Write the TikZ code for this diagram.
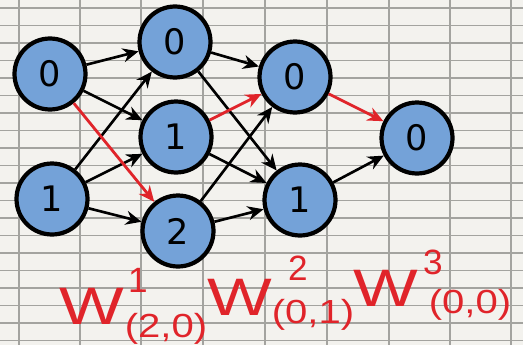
\documentclass[tikz,border=0pt]{standalone}
\usepackage{fontspec}
\setsansfont{DejaVu Sans}
\newfontfamily\handfont{Liberation Sans}
\usetikzlibrary{arrows.meta}
\definecolor{paper}{HTML}{F3F2EE}
\definecolor{gridc}{HTML}{A3A39F}
\definecolor{nodeblue}{HTML}{74A2D8}
\definecolor{penred}{HTML}{E0242A}
\begin{document}
\begin{tikzpicture}[x=0.02cm,y=-0.02cm,
  neuron/.style={circle,draw=black,line width=2.4pt,fill=nodeblue,minimum size=1.42cm,inner sep=0pt,font=\sffamily\fontsize{20}{20}\selectfont},
  edge/.style={-{Stealth[length=9pt,width=8pt]},line width=1.5pt,black},
  redge/.style={-{Stealth[length=9pt,width=8pt]},line width=1.6pt,penred},
  wbig/.style={text=penred,font=\handfont\fontsize{30}{30}\selectfont,inner sep=0pt,xscale=1.3},
  wsup/.style={text=penred,font=\handfont\fontsize{20}{20}\selectfont,inner sep=0pt},
  wsub/.style={text=penred,font=\handfont\fontsize{19}{19}\selectfont,inner sep=0pt,xscale=1.2}]
\fill[paper] (0,0) rectangle (523,345);
\useasboundingbox (0,0) rectangle (523,345);
\foreach \yy in {8,25.5,...,345} \draw[gridc,line width=0.6pt] (0,\yy) -- (523,\yy);
\foreach \xx in {19,80,141,203,265,327,389,450,511} \draw[gridc,line width=0.8pt] (\xx,0) -- (\xx,345);
% nodes
\node[neuron] (i0) at (50,74) {0};
\node[neuron] (i1) at (52,199) {1};
\node[neuron] (h0) at (175,42) {0};
\node[neuron] (h1) at (176,137) {1};
\node[neuron] (h2) at (178,231) {2};
\node[neuron] (g0) at (295,77) {0};
\node[neuron] (g1) at (300,200) {1};
\node[neuron] (o0) at (417,138) {0};
% edges layer 1
\draw[edge] (i0) -- (h0);
\draw[edge] (i0) -- (h1);
\draw[edge] (i1) -- (h0);
\draw[edge] (i1) -- (h1);
\draw[edge] (i1) -- (h2);
\draw[redge] (i0) -- (h2);
% edges layer 2
\draw[edge] (h0) -- (g0);
\draw[edge] (h0) -- (g1);
\draw[edge] (h1) -- (g1);
\draw[edge] (h2) -- (g0);
\draw[edge] (h2) -- (g1);
\draw[redge] (h1) -- (g0);
% edges layer 3
\draw[edge] (g1) -- (o0);
\draw[redge] (g0) -- (o0);
% labels
\node[wbig] (w1) at (92,306) {W};
\node[wsup] (w1sup) at (138,280) {1};
\node[wsub] (w1sub) at (166,329) {(2,0)};
\node[wbig] (w2) at (240,297) {W};
\node[wsup] (w2sup) at (298,268) {2};
\node[wsub] (w2sub) at (313,315) {(0,1)};
\node[wbig] (w3) at (386,288) {W};
\node[wsup] (w3sup) at (433,262) {3};
\node[wsub] (w3sub) at (470,305) {(0,0)};
\end{tikzpicture}
\end{document}
